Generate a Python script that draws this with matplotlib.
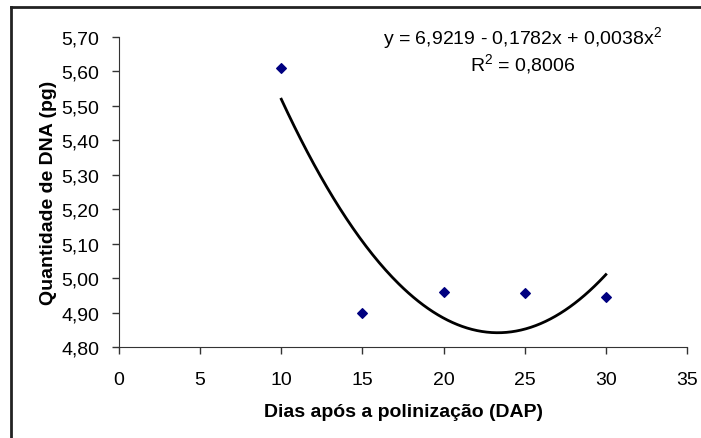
import numpy as np
import matplotlib
matplotlib.use("Agg")
from matplotlib import pyplot as plt
from matplotlib.ticker import FuncFormatter

# dados
dias = [10, 15, 20, 25, 30]
dna = [5.61, 4.90, 4.96, 4.957, 4.945]
eq1 = "y = 6,9219 - 0,1782x + 0,0038x$^2$"
eq2 = "R$^2$ = 0,8006"

plt.rcParams['font.family'] = ['Liberation Sans', 'DejaVu Sans']
plt.rcParams['mathtext.fontset'] = 'custom'
plt.rcParams['mathtext.rm'] = 'Liberation Sans'

fig = plt.figure(figsize=(7.01, 4.39), dpi=100)
ax = fig.add_axes([0.1698, 0.2073, 0.980 - 0.1698, 0.9134 - 0.2073])

# linha de tendencia polinomial (grau 2), como no excel
p = np.polyfit(dias, dna, 2)
xs = np.linspace(min(dias), max(dias), 200)
ax.plot(xs, np.polyval(p, xs), color='black', lw=2)
ax.scatter(dias, dna, marker='D', s=24, color='#000080', zorder=3)

ax.set_xlim(0, 35)
ax.set_ylim(4.80, 5.70)
ax.set_xticks(range(0, 36, 5))
ax.set_yticks(np.arange(4.80, 5.701, 0.10))
ax.yaxis.set_major_formatter(FuncFormatter(lambda v, p: ("%.2f" % v).replace('.', ',')))
ax.tick_params(direction='out', length=5, width=1, labelsize=14, color='#333333')
ax.tick_params(axis='x', pad=12)
ax.tick_params(axis='y', pad=9)
for s in ['top', 'right']:
    ax.spines[s].set_visible(False)
for s in ['left', 'bottom']:
    ax.spines[s].set_color('#333333')

ax.set_xlabel('Dias após a polinização (DAP)', fontsize=14, fontweight='bold', labelpad=11)
ax.set_ylabel('Quantidade de DNA (pg)', fontsize=14, fontweight='bold', labelpad=3)

fig.text(523 / 701, 1 - 39 / 439, eq1, ha='center', va='center', fontsize=14)
fig.text(523 / 701, 1 - 65 / 439, eq2, ha='center', va='center', fontsize=14)

# moldura externa
fig.add_artist(plt.Line2D([11 / 701, 11 / 701], [0, 1 - 8 / 439], color='#222222', lw=2, transform=fig.transFigure))
fig.add_artist(plt.Line2D([11 / 701, 1], [1 - 8 / 439, 1 - 8 / 439], color='#222222', lw=2, transform=fig.transFigure))

fig.savefig('out.png', dpi=100)
